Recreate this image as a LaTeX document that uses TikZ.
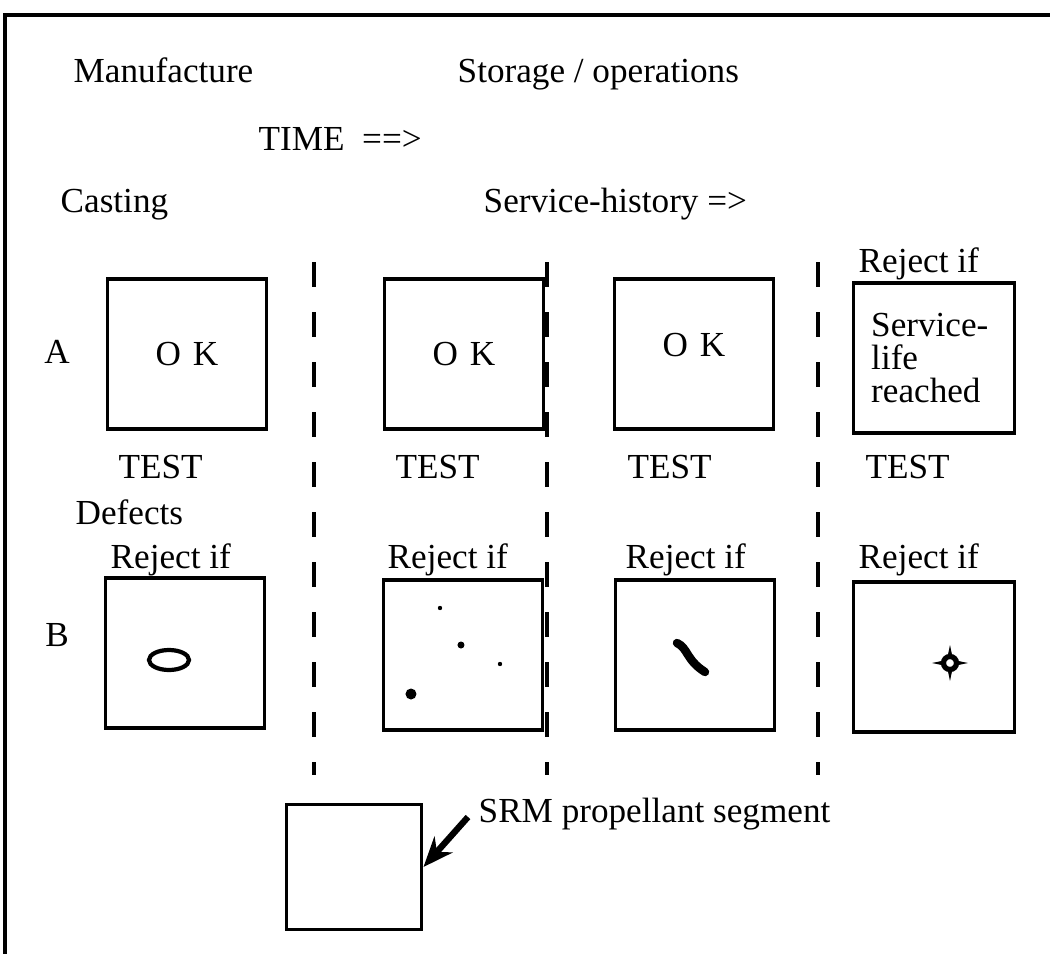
\documentclass[tikz,border=0pt]{standalone}
\usepackage{fontspec}
\setmainfont{Liberation Serif}
\usepackage{tikz}
\usetikzlibrary{arrows.meta, positioning}

\newcommand{\lblfont}{\fontsize{10}{9.4}\selectfont}

\begin{document}
\begin{tikzpicture}[x=0.01cm, y=-0.01cm,
                every node/.style={font=\lblfont, inner sep=0pt},
                segbox/.style={draw, line width=1.1pt, minimum width=1.59cm, minimum height=1.5cm},
                lbl/.style={anchor=base west},
                divider/.style={line width=1.1pt, dash pattern=on 0.25cm off 0.25cm},
                defect/.style={line width=1.2pt, line cap=round}]

                \useasboundingbox (0,0) rectangle (1050,954);

                % Frame
                \draw[line width=1.4pt] (5,954) -- (5,15) -- (1050,15);

                % Headings
                \node[lbl] at (73,82) (manu) {Manufacture};
                \node[lbl] at (457,82) (stor) {Storage / operations};
                \node[lbl] at (258,150) (time) {TIME\ \ ==>};
                \node[lbl] at (60,212) (cast) {Casting};
                \node[lbl] at (483,212) (hist) {Service-history =>};

                % Stage dividers
                \foreach \x in {314, 547, 818}
                    \draw[divider] (\x,262) -- (\x,775);

                % Row A
                \node at (57,352) (rowa) {A};
                \node[segbox] at (187,354) (a1) {O\,\,K};
                \node[segbox] at (464,354) (a2) {O\,\,K};
                \node[segbox] at (694,354) (a3) {\raisebox{0.18cm}{O\,\,K}};
                \node[segbox, minimum width=1.61cm] at (934,358) (a4) {};
                \node[anchor=north west, align=left] at ([xshift=0.19cm, yshift=-0.31cm]a4.north west) (a4txt)
                    {Service-\\life\\reached};
                \node[lbl] at (858,272) (rej0) {Reject if};

                % Tests
                \node[lbl] at (118,478) (test1) {TEST};
                \node[lbl] at (395,478) (test2) {TEST};
                \node[lbl] at (627,478) (test3) {TEST};
                \node[lbl] at (865,478) (test4) {TEST};
                \node[lbl] at (75,524) (defects) {Defects};

                % Row B
                \node at (57,635) (rowb) {B};
                \node[lbl] at (110,568) (rej1) {Reject if};
                \node[lbl] at (387,568) (rej2) {Reject if};
                \node[lbl] at (625,568) (rej3) {Reject if};
                \node[lbl] at (858,568) (rej4) {Reject if};
                \node[segbox] at (185,653) (b1) {};
                \node[segbox] at (463,655) (b2) {};
                \node[segbox] at (695,655) (b3) {};
                \node[segbox, minimum width=1.61cm] at (934,657) (b4) {};

                % Defect marks
                \draw[line width=1.2pt] (169,660) ellipse (20 and 10);
                \fill (440,608) circle (2.2);
                \fill (461,645) circle (3.5);
                \fill (500,664) circle (2.2);
                \fill (411,694) circle (5.5);
                \draw[defect, line width=2.4pt] (677,643) .. controls (688,648) and (686,660) .. (705,672);
                \draw[line width=1.5pt] (950,663) circle (6.5);
                \fill (950,645) -- (952.5,657) -- (947.5,657) -- cycle;
                \fill (950,681) -- (952.5,669) -- (947.5,669) -- cycle;
                \fill (932,663) -- (944,660.5) -- (944,665.5) -- cycle;
                \fill (968,663) -- (956,660.5) -- (956,665.5) -- cycle;

                % Segment legend
                \node[draw, line width=1.1pt, minimum width=1.35cm, minimum height=1.25cm] at (354,867) (seg) {};
                \node[lbl] at (478,822) (srm) {SRM propellant segment};
                \draw[-{Stealth[length=0.3cm, width=0.24cm]}, line width=1.8pt]
                    ([xshift=-0.1cm, yshift=0.05cm]srm.base west) -- (seg.east);
            \end{tikzpicture}
\end{document}
